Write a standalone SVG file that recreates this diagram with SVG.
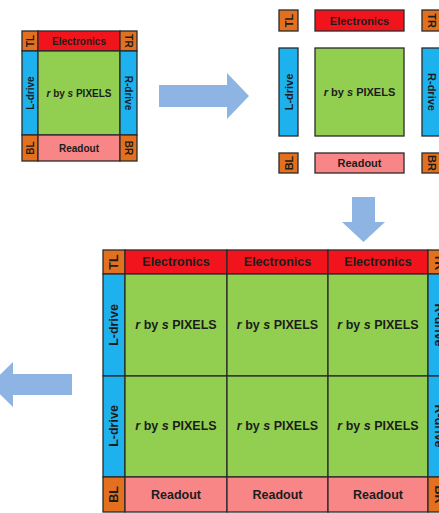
<svg xmlns="http://www.w3.org/2000/svg" width="439" height="513" viewBox="0 0 439 513">
<style>
.b{stroke:#2a2a2a;stroke-width:1.3}
.el{fill:#F2141C}
.px{fill:#92CF50}
.dr{fill:#1DB2EE}
.co{fill:#E2701E}
.ro{fill:#F98686}
text{font-family:"Liberation Sans",Arial,sans-serif;font-weight:bold;fill:#1c1c1c;text-anchor:middle;dominant-baseline:central}
.s{font-size:10px}
.m{font-size:11px}
.l{font-size:12.5px}
.arr{fill:#8EB4E3}
</style>
<rect width="439" height="513" fill="#ffffff"/>

<!-- small chip -->
<g id="chip-small">
<rect class="b co" x="22" y="31" width="16" height="20"/>
<rect class="b el" x="38" y="31" width="82" height="20"/>
<rect class="b co" x="120" y="31" width="17" height="20"/>
<rect class="b dr" x="22" y="51" width="16" height="84"/>
<rect class="b px" x="38" y="51" width="82" height="84"/>
<rect class="b dr" x="120" y="51" width="17" height="84"/>
<rect class="b co" x="22" y="135" width="16" height="26"/>
<rect class="b ro" x="38" y="135" width="82" height="26"/>
<rect class="b co" x="120" y="135" width="17" height="26"/>
<text class="s" transform="translate(30,41) rotate(-90)">TL</text>
<text class="s" x="79" y="41">Electronics</text>
<text class="s" transform="translate(128.5,41) rotate(90)">TR</text>
<text class="s" transform="translate(30,93) rotate(-90)">L-drive</text>
<text class="s" x="79" y="93"><tspan font-style="italic">r</tspan> by <tspan font-style="italic">s</tspan> PIXELS</text>
<text class="s" transform="translate(128.5,93) rotate(90)">R-drive</text>
<text class="s" transform="translate(30,148) rotate(-90)">BL</text>
<text class="s" x="79" y="148">Readout</text>
<text class="s" transform="translate(128.5,148) rotate(90)">BR</text>
</g>

<!-- exploded chip -->
<g id="chip-exploded">
<g id="ex-TL"><rect class="b co" x="279" y="10" width="19" height="21"/><text class="m" transform="translate(288.5,20.5) rotate(-90)">TL</text></g>
<g id="ex-electronics"><rect class="b el" x="315" y="10" width="89" height="21"/><text class="m" x="359.5" y="20.5">Electronics</text></g>
<g id="ex-TR"><rect class="b co" x="422" y="10" width="19" height="21"/><text class="m" transform="translate(431.5,20.5) rotate(90)">TR</text></g>
<g id="ex-Ldrive"><rect class="b dr" x="279" y="48" width="19" height="88"/><text class="m" transform="translate(288.5,92) rotate(-90)">L-drive</text></g>
<g id="ex-pixels"><rect class="b px" x="315" y="48" width="89" height="88"/><text class="m" x="359.5" y="92"><tspan font-style="italic">r</tspan> by <tspan font-style="italic">s</tspan> PIXELS</text></g>
<g id="ex-Rdrive"><rect class="b dr" x="422" y="48" width="19" height="88"/><text class="m" transform="translate(431.5,92) rotate(90)">R-drive</text></g>
<g id="ex-BL"><rect class="b co" x="279" y="153" width="19" height="20"/><text class="m" transform="translate(288.5,163) rotate(-90)">BL</text></g>
<g id="ex-readout"><rect class="b ro" x="315" y="153" width="89" height="20"/><text class="m" x="359.5" y="163">Readout</text></g>
<g id="ex-BR"><rect class="b co" x="422" y="153" width="19" height="20"/><text class="m" transform="translate(431.5,163) rotate(90)">BR</text></g>
</g>

<!-- big tiled chip -->
<g id="chip-tiled">
<rect class="b co" x="103" y="250" width="22" height="24"/>
<rect class="b el" x="125" y="250" width="102" height="24"/>
<rect class="b el" x="227" y="250" width="101" height="24"/>
<rect class="b el" x="328" y="250" width="100" height="24"/>
<rect class="b co" x="428" y="250" width="22" height="24"/>
<rect class="b dr" x="103" y="274" width="22" height="102"/>
<rect class="b px" x="125" y="274" width="102" height="102"/>
<rect class="b px" x="227" y="274" width="101" height="102"/>
<rect class="b px" x="328" y="274" width="100" height="102"/>
<rect class="b dr" x="428" y="274" width="22" height="102"/>
<rect class="b dr" x="103" y="376" width="22" height="101"/>
<rect class="b px" x="125" y="376" width="102" height="101"/>
<rect class="b px" x="227" y="376" width="101" height="101"/>
<rect class="b px" x="328" y="376" width="100" height="101"/>
<rect class="b dr" x="428" y="376" width="22" height="101"/>
<rect class="b co" x="103" y="477" width="22" height="35"/>
<rect class="b ro" x="125" y="477" width="102" height="35"/>
<rect class="b ro" x="227" y="477" width="101" height="35"/>
<rect class="b ro" x="328" y="477" width="100" height="35"/>
<rect class="b co" x="428" y="477" width="22" height="35"/>
<text class="l" transform="translate(114,262) rotate(-90)">TL</text>
<text class="l" x="176" y="262">Electronics</text>
<text class="l" x="277.5" y="262">Electronics</text>
<text class="l" x="378" y="262">Electronics</text>
<text class="l" transform="translate(439,262) rotate(90)">TR</text>
<text class="l" transform="translate(114,325) rotate(-90)">L-drive</text>
<text class="l" x="176" y="325"><tspan font-style="italic">r</tspan> by <tspan font-style="italic">s</tspan> PIXELS</text>
<text class="l" x="277.5" y="325"><tspan font-style="italic">r</tspan> by <tspan font-style="italic">s</tspan> PIXELS</text>
<text class="l" x="378" y="325"><tspan font-style="italic">r</tspan> by <tspan font-style="italic">s</tspan> PIXELS</text>
<text class="l" transform="translate(439,325) rotate(90)">R-drive</text>
<text class="l" transform="translate(114,426) rotate(-90)">L-drive</text>
<text class="l" x="176" y="426"><tspan font-style="italic">r</tspan> by <tspan font-style="italic">s</tspan> PIXELS</text>
<text class="l" x="277.5" y="426"><tspan font-style="italic">r</tspan> by <tspan font-style="italic">s</tspan> PIXELS</text>
<text class="l" x="378" y="426"><tspan font-style="italic">r</tspan> by <tspan font-style="italic">s</tspan> PIXELS</text>
<text class="l" transform="translate(439,426) rotate(90)">R-drive</text>
<text class="l" transform="translate(114,494.5) rotate(-90)">BL</text>
<text class="l" x="176" y="494.5">Readout</text>
<text class="l" x="277.5" y="494.5">Readout</text>
<text class="l" x="378" y="494.5">Readout</text>
<text class="l" transform="translate(439,494.5) rotate(90)">BR</text>
</g>

<!-- connectors -->
<g id="connectors">
<polygon class="arr" points="159,85 227,85 227,73 249,96 227,119 227,107 159,107"/>
<polygon class="arr" points="352,197 375,197 375,222 385,222 363.5,242 342,222 352,222"/>
<polygon class="arr" points="72,374 13,374 13,362 -10,384.5 13,407 13,395 72,395"/>
</g>
</svg>
